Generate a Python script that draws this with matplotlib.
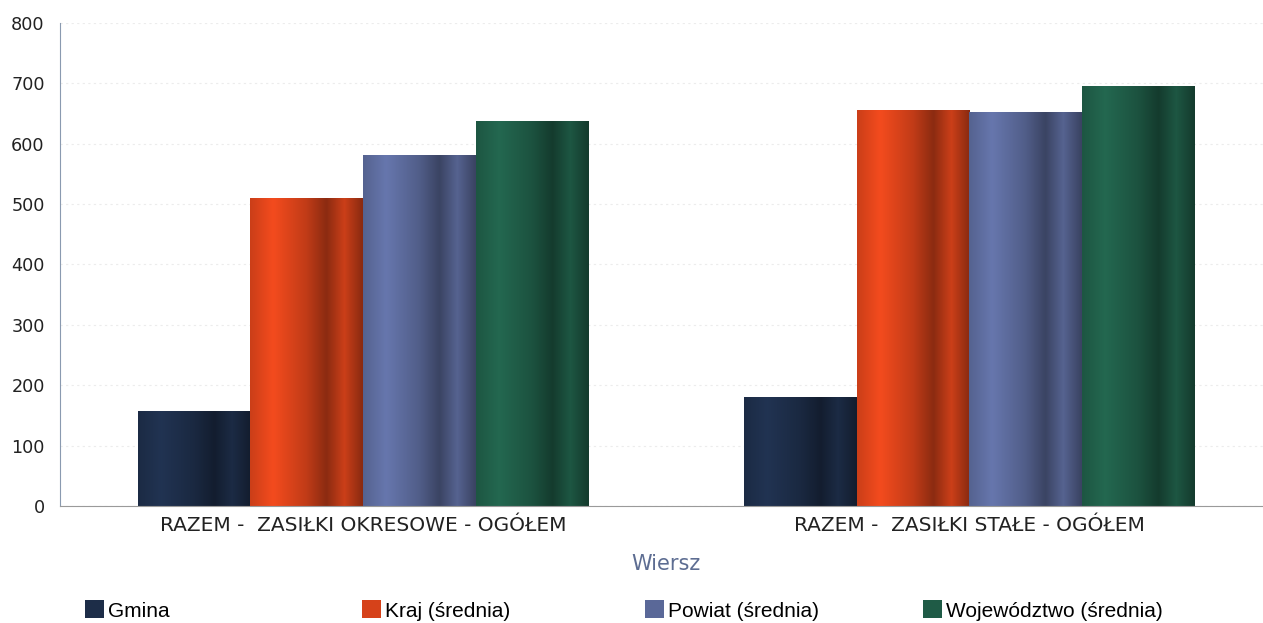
import numpy as np
import matplotlib
matplotlib.use("Agg")
import matplotlib.pyplot as plt
from matplotlib.colors import to_rgb
from matplotlib.patches import Patch

categories = ["RAZEM -  ZASIŁKI OKRESOWE - OGÓŁEM", "RAZEM -  ZASIŁKI STAŁE - OGÓŁEM"]
series = ["Gmina", "Kraj (średnia)", "Powiat (średnia)", "Województwo (średnia)"]
gmina = [157, 180]
kraj = [510, 656]
powiat = [581, 652]
wojewodztwo = [637, 695]
values = [gmina, kraj, powiat, wojewodztwo]
colors = ["#1d2d48", "#d6421a", "#5a6898", "#1f5b46"]
yticks = [0, 100, 200, 300, 400, 500, 600, 700, 800]

# brightness profile across each bar (cylinder look)
prof_x = [0.0, 0.2, 0.5, 0.68, 0.84, 1.0]
prof_f = [0.95, 1.14, 0.9, 0.65, 0.95, 0.65]


def gradient(color, n=64):
    t = np.linspace(0, 1, n)
    f = np.interp(t, prof_x, prof_f)
    rgb = np.array(to_rgb(color))
    img = np.clip(rgb[None, :] * f[:, None], 0, 1)
    return img[None, :, :]


fig = plt.figure(figsize=(12.63, 6.23), dpi=100)
ax = fig.add_axes([0.0475, 0.188, 0.96, 0.775])

w = 0.186
x = np.arange(len(categories))
for i, (vals, c) in enumerate(zip(values, colors)):
    off = (i - 1.5) * w
    for xi, v in zip(x, vals):
        ax.imshow(gradient(c), extent=(xi + off - w / 2, xi + off + w / 2, 0, v),
                  aspect="auto", zorder=2, interpolation="bilinear")

ax.set_xlim(-0.5, 1.5)
ax.set_ylim(0, 800)
ax.set_yticks(yticks)
ax.set_xticks(x)
ax.set_xticklabels(categories, fontsize=14.5, family="DejaVu Sans", color="#222222")
ax.tick_params(axis="y", labelsize=12.7, labelcolor="#222222", length=0, pad=11)
ax.tick_params(axis="x", length=0, pad=7)

ax.grid(axis="y", color="#ececec", linestyle=(0, (2, 3)), linewidth=0.8, zorder=0)
ax.set_axisbelow(True)
for s in ["top", "right"]:
    ax.spines[s].set_visible(False)
ax.spines["left"].set_color("#8a9ab0")
ax.spines["left"].set_linestyle((0, (1, 1)))
ax.spines["left"].set_linewidth(0.8)
ax.spines["bottom"].set_color("#9a9a9a")
ax.spines["bottom"].set_linewidth(0.8)

ax.set_xlabel("Wiersz", fontsize=15, family="DejaVu Sans", color="#5d6d92", labelpad=14)

# legend items placed one by one, as in the reference
leg_x = [0.0673, 0.2866, 0.5107, 0.7308]
for xl, c, name in zip(leg_x, colors, series):
    fig.legend([Patch(facecolor=c, edgecolor="none")], [name], loc="center left",
               bbox_to_anchor=(xl, 0.02), frameon=False, borderpad=0, borderaxespad=0,
               prop={"family": "Liberation Sans", "size": 15},
               handlelength=0.9, handleheight=0.95, handletextpad=0.2)

plt.savefig("out.png", dpi=100)
